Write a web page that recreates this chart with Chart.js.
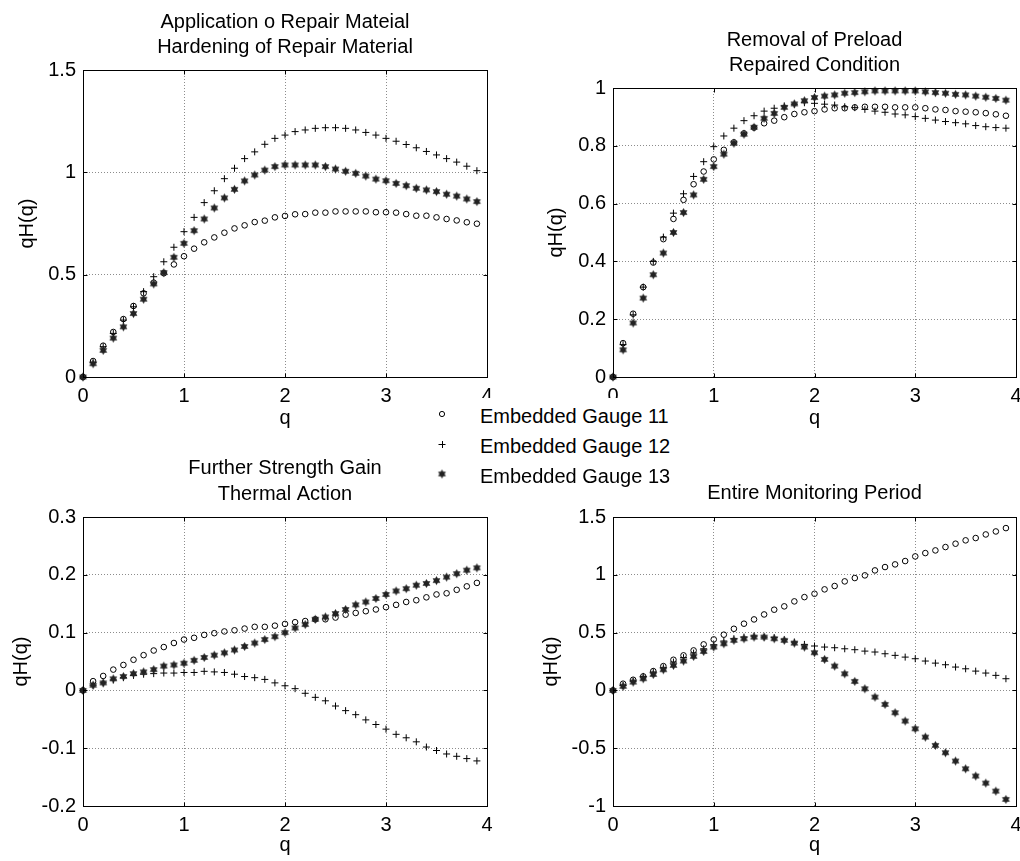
<!DOCTYPE html>
<html>
<head>
<meta charset="utf-8">
<script src="https://cdn.jsdelivr.net/npm/chart.js@4.4.1/dist/chart.umd.min.js"></script>
<style>
  html, body { margin: 0; padding: 0; background: #fff; overflow: hidden; width: 1020px; height: 861px; }
  .panel { position: absolute; }
  #legend { position: absolute; left: 425px; top: 398px; width: 270px; height: 88px; background: #fff; z-index: 5;
            font: 20px "Liberation Sans", Arial, sans-serif; color: #000; }
  .row { position: absolute; left: 0; height: 30px; line-height: 30px; white-space: nowrap; }
  .row canvas { position: absolute; left: 9px; top: 5px; }
  .row span { position: absolute; left: 55px; top: 0; }
</style>
</head>
<body>
<canvas id="c1" class="panel" style="left:0px;top:0px;width:510px;height:437px"></canvas>
<canvas id="c2" class="panel" style="left:510px;top:0px;width:530px;height:437px"></canvas>
<canvas id="c3" class="panel" style="left:0px;top:435px;width:510px;height:431px"></canvas>
<canvas id="c4" class="panel" style="left:510px;top:435px;width:530px;height:431px"></canvas>
<div id="legend">
  <div class="row" style="top:3.4px"><canvas id="m1" width="16" height="16"></canvas><span>Embedded Gauge 11</span></div>
  <div class="row" style="top:33.4px"><canvas id="m2" width="16" height="16"></canvas><span>Embedded Gauge 12</span></div>
  <div class="row" style="top:63.4px"><canvas id="m3" width="16" height="16"></canvas><span>Embedded Gauge 13</span></div>
</div>
<script>
// q values (x axis)
var q = [0, 0.1, 0.2, 0.3, 0.4, 0.5, 0.6, 0.7, 0.8, 0.9, 1.0, 1.1, 1.2, 1.3, 1.4, 1.5, 1.6, 1.7, 1.8, 1.9,
         2.0, 2.1, 2.2, 2.3, 2.4, 2.5, 2.6, 2.7, 2.8, 2.9, 3.0, 3.1, 3.2, 3.3, 3.4, 3.5, 3.6, 3.7, 3.8, 3.9];

var gaugeNames = ['Embedded Gauge 11', 'Embedded Gauge 12', 'Embedded Gauge 13'];

// Application o Repair Mateial / Hardening of Repair Material
var repairG11 = [0,0.078,0.153,0.22,0.283,0.347,0.409,0.461,0.507,0.55,0.59,0.627,0.658,0.682,0.705,0.726,0.741,0.757,0.764,0.78,
                 0.787,0.795,0.796,0.803,0.803,0.809,0.809,0.809,0.809,0.805,0.805,0.803,0.796,0.788,0.788,0.78,0.772,0.765,0.756,0.749];
var repairG12 = [0,0.07,0.148,0.213,0.278,0.343,0.417,0.49,0.563,0.634,0.71,0.78,0.852,0.91,0.969,1.02,1.067,1.1,1.137,1.166,
                 1.182,1.199,1.207,1.215,1.218,1.218,1.215,1.207,1.195,1.182,1.166,1.152,1.136,1.12,1.102,1.085,1.067,1.05,1.03,1.008];
var repairG13 = [0,0.065,0.13,0.19,0.245,0.31,0.38,0.455,0.51,0.585,0.653,0.715,0.772,0.826,0.875,0.917,0.958,0.987,1.011,1.028,
                 1.036,1.036,1.036,1.036,1.028,1.016,1.005,0.995,0.982,0.967,0.959,0.946,0.935,0.922,0.914,0.906,0.893,0.884,0.87,0.857];

// Removal of Preload / Repaired Condition
var preloadG11 = [0,0.117,0.219,0.311,0.396,0.477,0.547,0.613,0.667,0.711,0.753,0.786,0.812,0.843,0.863,0.878,0.887,0.899,0.91,0.916,
                  0.92,0.926,0.93,0.93,0.933,0.935,0.935,0.935,0.933,0.933,0.933,0.93,0.926,0.924,0.92,0.918,0.916,0.913,0.909,0.904];
var preloadG12 = [0,0.112,0.215,0.311,0.4,0.484,0.567,0.634,0.694,0.745,0.797,0.834,0.861,0.887,0.904,0.92,0.93,0.938,0.944,0.949,
                  0.947,0.944,0.941,0.935,0.932,0.926,0.92,0.916,0.91,0.907,0.901,0.895,0.889,0.884,0.88,0.876,0.87,0.866,0.863,0.861];
var preloadG13 = [0,0.094,0.187,0.273,0.354,0.429,0.5,0.569,0.63,0.684,0.728,0.771,0.809,0.84,0.864,0.895,0.912,0.933,0.945,0.956,
                  0.967,0.972,0.976,0.982,0.984,0.987,0.99,0.99,0.99,0.99,0.99,0.987,0.984,0.982,0.978,0.976,0.972,0.968,0.964,0.958];

// Further Strength Gain / Thermal Action
var thermalG11 = [0,0.016,0.025,0.036,0.044,0.053,0.061,0.069,0.075,0.082,0.088,0.091,0.096,0.099,0.102,0.104,0.107,0.11,0.11,0.112,
                  0.115,0.118,0.12,0.123,0.123,0.126,0.131,0.134,0.137,0.14,0.144,0.148,0.153,0.156,0.161,0.166,0.168,0.174,0.18,0.186];
var thermalG12 = [0,0.009,0.013,0.018,0.022,0.026,0.028,0.029,0.03,0.03,0.031,0.031,0.033,0.032,0.031,0.028,0.024,0.022,0.019,0.013,
                  0.008,0.003,-0.005,-0.012,-0.018,-0.027,-0.035,-0.042,-0.051,-0.059,-0.067,-0.076,-0.082,-0.089,-0.098,-0.104,-0.11,-0.114,-0.118,-0.122];
var thermalG13 = [0,0.009,0.013,0.02,0.024,0.029,0.032,0.036,0.042,0.044,0.047,0.052,0.057,0.061,0.065,0.07,0.076,0.082,0.088,0.093,
                  0.1,0.108,0.114,0.123,0.127,0.133,0.14,0.148,0.153,0.159,0.166,0.172,0.176,0.182,0.185,0.19,0.196,0.202,0.208,0.212];

// Entire Monitoring Period
var entireG11 = [0,0.058,0.092,0.121,0.167,0.21,0.265,0.303,0.346,0.398,0.441,0.482,0.533,0.577,0.614,0.657,0.698,0.727,0.77,0.807,
                 0.836,0.874,0.903,0.943,0.972,0.995,1.038,1.067,1.09,1.119,1.159,1.188,1.211,1.24,1.269,1.298,1.318,1.349,1.375,1.404];
var entireG12 = [0,0.043,0.08,0.121,0.159,0.196,0.245,0.283,0.323,0.36,0.395,0.427,0.447,0.461,0.47,0.461,0.456,0.438,0.418,0.398,
                 0.384,0.375,0.369,0.36,0.352,0.34,0.332,0.317,0.303,0.288,0.274,0.254,0.236,0.222,0.202,0.187,0.167,0.15,0.13,0.101];
var entireG13 = [0,0.035,0.072,0.101,0.138,0.179,0.216,0.254,0.294,0.337,0.375,0.404,0.433,0.447,0.461,0.461,0.447,0.433,0.409,0.375,
                 0.326,0.268,0.21,0.144,0.078,0.014,-0.058,-0.121,-0.193,-0.265,-0.332,-0.404,-0.476,-0.539,-0.611,-0.678,-0.741,-0.802,-0.871,-0.943];

var FONT = '"Liberation Sans", Arial, Helvetica, sans-serif';

// filled six point star used for gauge 13
function makeStar(r, color) {
    var s = Math.ceil(r * 2) + 2;
    var c = document.createElement('canvas');
    c.width = s; c.height = s;
    var g = c.getContext('2d');
    g.fillStyle = color;
    g.beginPath();
    for (var i = 0; i < 12; i++) {
        var a = -Math.PI / 2 + i * Math.PI / 6;
        var rr = (i % 2) ? r * 0.577 : r;
        g.lineTo(s / 2 + rr * Math.cos(a), s / 2 + rr * Math.sin(a));
    }
    g.closePath();
    g.fill();
    return c;
}
var starImg = makeStar(4.5, '#222');

function toXY(arr) {
    var out = [];
    for (var i = 0; i < arr.length; i++) out.push({x: q[i], y: arr[i]});
    return out;
}

// matlab style box + inward tick marks
var boxPlugin = {
    id: 'matlabBox',
    afterDraw: function(chart) {
        var ctx = chart.ctx, a = chart.chartArea, xs = chart.scales.x, ys = chart.scales.y;
        var L = Math.round(a.left) + 0.5, R = Math.round(a.right) + 0.5, T = Math.round(a.top) + 0.5, B = Math.round(a.bottom) + 0.5;
        ctx.save();
        ctx.strokeStyle = '#000';
        ctx.lineWidth = 1;
        ctx.strokeRect(L, T, R - L, B - T);
        ctx.beginPath();
        xs.ticks.forEach(function(t) {
            var px = Math.round(xs.getPixelForValue(t.value)) + 0.5;
            ctx.moveTo(px, B); ctx.lineTo(px, B - 4);
            ctx.moveTo(px, T); ctx.lineTo(px, T + 4);
        });
        ys.ticks.forEach(function(t) {
            var py = Math.round(ys.getPixelForValue(t.value)) + 0.5;
            ctx.moveTo(L, py); ctx.lineTo(L + 4, py);
            ctx.moveTo(R, py); ctx.lineTo(R - 4, py);
        });
        ctx.stroke();
        ctx.restore();
    }
};

function makePanel(id, opt) {
    var tickFont = {family: FONT, size: 20};
    var gridOpts = {color: '#8c8c8c', lineWidth: 1, drawTicks: false, borderDash: [1, 2]};
    var borderOpts = {display: false, dash: [1, 2]};
    return new Chart(document.getElementById(id), {
        type: 'scatter',
        data: {
            datasets: [
                {label: gaugeNames[0], data: toXY(opt.g11), pointStyle: 'circle', pointRadius: 2.8,
                 pointBorderColor: '#000', pointBackgroundColor: 'rgba(0,0,0,0)', pointBorderWidth: 1, clip: false, order: 3},
                {label: gaugeNames[1], data: toXY(opt.g12), pointStyle: 'cross', pointRadius: 3.5,
                 pointBorderColor: '#000', pointBorderWidth: 1, clip: false, order: 2},
                {label: gaugeNames[2], data: toXY(opt.g13), pointStyle: starImg, pointRadius: 4,
                 clip: false, order: 1}
            ]
        },
        options: {
            responsive: false,
            animation: false,
            events: [],
            layout: {padding: {left: 0, top: 0, bottom: 0, right: opt.padRight}},
            plugins: {
                legend: {display: false},
                tooltip: {enabled: false},
                // fullSize false -> title sits over the plot area only, like matlab
                title: {display: true, fullSize: false, text: opt.title, color: '#000',
                        font: {family: FONT, size: 20, weight: 'normal', lineHeight: 1.28},
                        padding: {top: opt.titleTop, bottom: opt.titleBottom}}
            },
            scales: {
                x: {type: 'linear', min: 0, max: 4,
                    ticks: {stepSize: 1, padding: 7.5, color: '#000', font: tickFont, maxRotation: 0},
                    grid: gridOpts, border: borderOpts,
                    title: {display: true, text: 'q', color: '#000', font: tickFont, padding: {top: 0, bottom: opt.qPad}},
                    afterFit: function(s) { s.height = opt.xHeight; }},
                y: {type: 'linear', min: opt.yMin, max: opt.yMax,
                    ticks: {stepSize: opt.yStep, padding: 7, color: '#000', font: tickFont,
                            callback: function(v) { return String(Math.round(v * 100) / 100); }},
                    grid: gridOpts, border: borderOpts,
                    title: {display: true, text: 'qH(q)', color: '#000', font: tickFont, padding: {top: opt.yTitlePad, bottom: 0}},
                    afterFit: function(s) { s.width = opt.yWidth; }}
            }
        },
        plugins: [boxPlugin]
    });
}

function sizeCanvas(id) {
    var c = document.getElementById(id);
    c.width = parseInt(c.style.width); c.height = parseInt(c.style.height);
}
['c1', 'c2', 'c3', 'c4'].forEach(sizeCanvas);

makePanel('c1', {g11: repairG11, g12: repairG12, g13: repairG13,
    title: ['Application o Repair Mateial', 'Hardening of Repair Material'], titleTop: 9.2, titleBottom: 9.6,
    yMin: 0, yMax: 1.5, yStep: 0.5, yWidth: 83, yTitlePad: 15, padRight: 23, xHeight: 60, qPad: 6.6});
makePanel('c2', {g11: preloadG11, g12: preloadG12, g13: preloadG13,
    title: ['Removal of Preload', 'Repaired Condition'], titleTop: 27.2, titleBottom: 9.6,
    yMin: 0, yMax: 1, yStep: 0.2, yWidth: 103, yTitlePad: 34, padRight: 24, xHeight: 60, qPad: 6.6});
makePanel('c3', {g11: thermalG11, g12: thermalG12, g13: thermalG13,
    title: ['Further Strength Gain', 'Thermal Action'], titleTop: 20.6, titleBottom: 10.2,
    yMin: -0.2, yMax: 0.3, yStep: 0.1, yWidth: 83, yTitlePad: 9, padRight: 23, xHeight: 60, qPad: 9});
makePanel('c4', {g11: entireG11, g12: entireG12, g13: entireG13,
    title: 'Entire Monitoring Period', titleTop: 45.6, titleBottom: 10.8,
    yMin: -1, yMax: 1.5, yStep: 0.5, yWidth: 103, yTitlePad: 29, padRight: 24, xHeight: 60, qPad: 9});

// legend markers
(function() {
    var g = document.getElementById('m1').getContext('2d');
    g.strokeStyle = '#000'; g.lineWidth = 1;
    g.beginPath(); g.arc(8, 8, 2.6, 0, Math.PI * 2); g.stroke();
    g = document.getElementById('m2').getContext('2d');
    g.strokeStyle = '#000'; g.lineWidth = 1;
    g.beginPath(); g.moveTo(4.5, 8.5); g.lineTo(11.5, 8.5); g.moveTo(8.5, 5); g.lineTo(8.5, 12); g.stroke();
    g = document.getElementById('m3').getContext('2d');
    g.drawImage(starImg, 8 - starImg.width / 2, 8 - starImg.height / 2);
})();
</script>
</body>
</html>
